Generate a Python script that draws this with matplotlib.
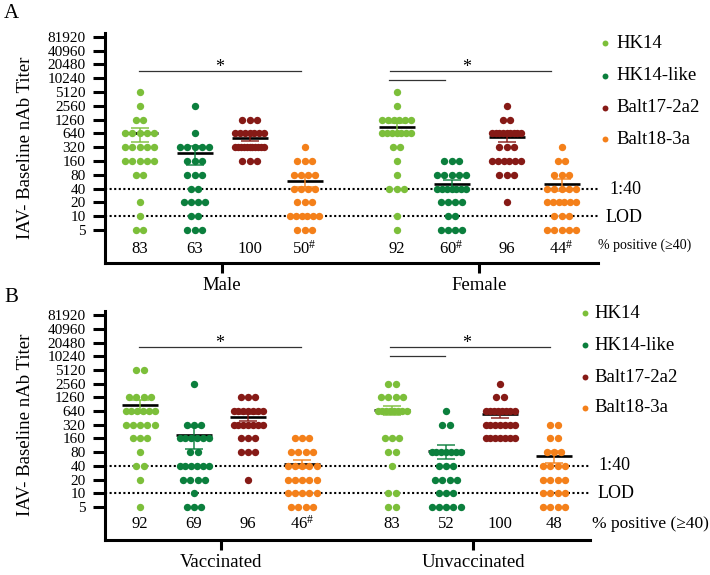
import numpy as np
import matplotlib
matplotlib.use('Agg')
import matplotlib.pyplot as plt

plt.rcParams['font.family'] = ['Liberation Serif', 'DejaVu Serif']
plt.rcParams['mathtext.fontset'] = 'custom'
plt.rcParams['mathtext.rm'] = 'Liberation Serif'
plt.rcParams['mathtext.it'] = 'Liberation Serif'

# ---------------- data ----------------
titer_levels = [5, 10, 20, 40, 80, 160, 320, 640, 1280, 2560, 5120]
tick_values = [5 * 2 ** k for k in range(15)]
tick_labels = ['5', '10', '20', '40', '80', '160', '320', '640', '1260', '2560',
               '5120', '10240', '20480', '40960', '81920']

series_names = ['HK14', 'HK14-like', 'Balt17-2a2', 'Balt18-3a']
series_colors = ['#7cbf3a', '#0b7f3d', '#861a16', '#f4801a']

# counts of animals at each titer level (5 ... 5120), per series
male_counts = [
    [2, 1, 1, 0, 2, 5, 5, 5, 2, 1, 1],
    [3, 2, 4, 2, 3, 3, 5, 1, 0, 1, 0],
    [0, 0, 0, 0, 0, 3, 11, 7, 3, 0, 0],
    [3, 6, 3, 4, 4, 3, 1, 0, 0, 0, 0],
]
female_counts = [
    [1, 1, 0, 3, 1, 1, 2, 7, 6, 1, 1],
    [4, 2, 4, 7, 5, 3, 0, 0, 0, 0, 0],
    [0, 0, 1, 0, 3, 6, 3, 9, 2, 1, 0],
    [5, 3, 6, 5, 3, 2, 1, 0, 0, 0, 0],
]
vacc_counts = [
    [1, 0, 1, 2, 1, 3, 5, 6, 4, 0, 2],
    [3, 1, 4, 6, 2, 6, 3, 0, 0, 1, 0],
    [0, 0, 1, 0, 3, 3, 7, 7, 3, 0, 0],
    [4, 5, 5, 5, 4, 3, 0, 0, 0, 0, 0],
]
unvacc_counts = [
    [2, 2, 0, 1, 2, 3, 0, 8, 4, 2, 0],
    [5, 3, 4, 3, 7, 0, 2, 1, 0, 0, 0],
    [0, 0, 0, 0, 0, 7, 7, 8, 2, 1, 0],
    [4, 4, 4, 4, 3, 2, 2, 0, 0, 0, 0],
]

pct_male = ['83', '63', '100', '50#']
pct_female = ['92', '60#', '96', '44#']
pct_vacc = ['92', '69', '96', '46#']
pct_unvacc = ['83', '52', '100', '48']

groups_A = ['Male', 'Female']
groups_B = ['Vaccinated', 'Unvaccinated']

# ---------------- figure ----------------
W, H = 710, 575
fig = plt.figure(figsize=(W / 100, H / 100), dpi=100)


def px_axes(left, top, right, bottom):
    return fig.add_axes([left / W, 1 - bottom / H, (right - left) / W, (bottom - top) / H])


overlay = fig.add_axes([0, 0, 1, 1], zorder=10)
overlay.set_xlim(0, W)
overlay.set_ylim(H, 0)
overlay.axis('off')
overlay.patch.set_alpha(0)


def offsets(n, step=7.3, span=29.0):
    if n <= 1:
        return np.zeros(n)
    s = min(step, span / (n - 1))
    return (np.arange(n) - (n - 1) / 2) * s


def fmt_pct(s):
    if s.endswith('#'):
        return s[:-1] + r'$^{\#}$'
    return s


def draw_panel(spec):
    ax = px_axes(105, spec['top'], spec['right'], spec['bottom'])
    ax.set_xlim(105, spec['right'])
    ax.set_yscale('log', base=2)
    ax.set_ylim(5 * 2 ** -spec['below'], 5 * 2 ** spec['above'])
    ax.set_yticks(tick_values)
    ax.set_yticklabels(tick_labels, fontsize=11)
    ax.yaxis.set_minor_locator(matplotlib.ticker.NullLocator())
    ax.tick_params(axis='y', length=8.5, width=2.2, pad=5.5, direction='out')
    ax.set_xticks(spec['centers'])
    ax.set_xticklabels(spec['groups'], fontsize=13.5)
    ax.tick_params(axis='x', length=7.5, width=2.2, pad=2.5, direction='out')
    for s in ['top', 'right']:
        ax.spines[s].set_visible(False)
    for s in ['left', 'bottom']:
        ax.spines[s].set_linewidth(2.2)
    ax.patch.set_alpha(0)

    # threshold lines
    ax.hlines([40, 10], 105, spec['right'], colors='black', linewidth=1.5,
              linestyles=(0, (1, 1.2)), zorder=1)

    for gi, counts_list in enumerate(spec['counts']):
        for si, counts in enumerate(counts_list):
            xc = spec['centers'][gi] + (si - 1.5) * spec['step']
            vals, xs = [], []
            for lvl, n in zip(titer_levels, counts):
                for o in offsets(n):
                    vals.append(lvl)
                    xs.append(xc + o)
            vals = np.array(vals, dtype=float)
            mean = vals.mean()
            sem = vals.std(ddof=1) / np.sqrt(len(vals))
            col = series_colors[si]
            ax.hlines(mean, xc - 18, xc + 18, colors='black', linewidth=1.9, zorder=2)
            ax.vlines(xc, mean - sem, mean + sem, colors=col, linewidth=1.2, zorder=2, alpha=0.85)
            ax.hlines([mean - sem, mean + sem], xc - 9, xc + 9, colors=col, linewidth=1.2,
                      zorder=2, alpha=0.85)
            ax.scatter(xs, vals, s=28, color=col, linewidths=0, zorder=3)
            ax.text(xc, spec['pct_y'], fmt_pct(spec['pct'][gi][si]), fontsize=12,
                    ha='center', va='center', transform=ax.get_xaxis_transform())
    return ax


panelA = dict(top=33, bottom=263, right=598, below=2.39, above=14.28,
              centers=[222, 479], step=55, groups=groups_A,
              counts=[male_counts, female_counts], pct=[pct_male, pct_female],
              pct_y=(263 - 249) / 230)
panelB = dict(top=311, bottom=540, right=590, below=2.41, above=14.30,
              centers=[221, 473], step=54, groups=groups_B,
              counts=[vacc_counts, unvacc_counts], pct=[pct_vacc, pct_unvacc],
              pct_y=(540 - 524) / 229)

axA = draw_panel(panelA)
axB = draw_panel(panelB)

# ---------------- annotations (pixel coords) ----------------
o = overlay
o.text(4, 14, 'A', fontsize=15, ha='left', va='center')
o.text(4, 297, 'B', fontsize=15, ha='left', va='center')
o.text(26, 148, 'IAV- Baseline nAb Titer', fontsize=13.5, rotation=90, ha='center', va='center')
o.text(26, 425, 'IAV- Baseline nAb Titer', fontsize=13.5, rotation=90, ha='center', va='center')

# significance bars
sig_col = '#333333'
for (x0, x1, y) in [(139, 301, 71), (390, 551, 71), (389, 445, 80),
                    (139, 301, 347), (390, 550, 347), (390, 445, 356)]:
    o.plot([x0, x1], [y, y], color=sig_col, linewidth=0.9)
for (x, y) in [(220, 68), (467, 68), (220, 344), (467, 344)]:
    o.text(x, y, '*', fontsize=13, ha='center', va='center')

# threshold labels
o.text(609, 189, '1:40', fontsize=13, ha='left', va='center')
o.text(606, 217, 'LOD', fontsize=13, ha='left', va='center')
o.text(598, 245, '% positive (≥40)', fontsize=10, ha='left', va='center')
o.text(598, 466, '1:40', fontsize=13, ha='left', va='center')
o.text(598, 493, 'LOD', fontsize=13, ha='left', va='center')
o.text(592, 524, '% positive (≥40)', fontsize=12.5, ha='left', va='center')

# legends
for (mx, tx, ys) in [(605, 616, [43, 76, 108, 139]), (585, 594, [313, 345, 377, 408])]:
    for name, col, y in zip(series_names, series_colors, ys):
        o.scatter([mx], [y], s=18, color=col, linewidths=0)
        o.text(tx, y, name, fontsize=13.5, ha='left', va='center')

fig.savefig('out.png', dpi=100)
